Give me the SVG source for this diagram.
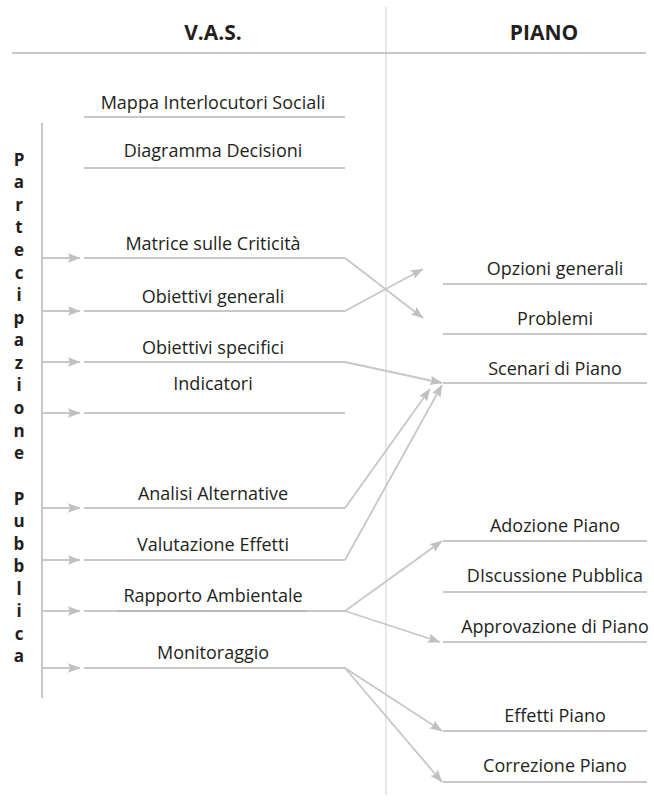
<svg xmlns="http://www.w3.org/2000/svg" width="654" height="803" viewBox="0 0 654 803">
<defs>
<marker id="ah" markerUnits="userSpaceOnUse" markerWidth="14" markerHeight="10" refX="12" refY="4.75" orient="auto">
<path d="M0,0 L12.5,4.75 L0,9.5 L2,4.75 Z" fill="#bfc0c2"/>
</marker>
<style>
.lbl{font-family:"Open Sans","Noto Sans",sans-serif;font-size:18px;fill:#231f20;text-anchor:middle}
.hdr{font-family:"Open Sans","Noto Sans",sans-serif;font-size:21px;font-weight:bold;fill:#231f20;text-anchor:middle}
.vt{font-family:"Open Sans","Noto Sans",sans-serif;font-size:17px;font-weight:bold;fill:#231f20;text-anchor:middle}
.ul{stroke:#c6c7c9;stroke-width:1.8;fill:none}
.ar{stroke:#c6c7c9;stroke-width:1.8;fill:none;marker-end:url(#ah)}
</style>
</defs>
<rect width="654" height="803" fill="#ffffff"/>
<g id="frame">
<line x1="386" y1="7" x2="386" y2="795" stroke="#e4e4e4" stroke-width="1.6"/>
<line x1="12" y1="53" x2="646" y2="53" stroke="#c6c7c9" stroke-width="2"/>
<line x1="42" y1="123" x2="42" y2="698" stroke="#c6c7c9" stroke-width="2"/>
<text class="hdr" x="213" y="40">V.A.S.</text>
<text class="hdr" x="544" y="40">PIANO</text>
</g>
<g id="partecipazione">
<text class="vt">
<tspan x="19" y="166">P</tspan><tspan x="19" y="188">a</tspan><tspan x="19" y="211">r</tspan><tspan x="19" y="233">t</tspan><tspan x="19" y="256">e</tspan><tspan x="19" y="279">c</tspan><tspan x="19" y="301">i</tspan><tspan x="19" y="324">p</tspan><tspan x="19" y="346">a</tspan><tspan x="19" y="369">z</tspan><tspan x="19" y="391">i</tspan><tspan x="19" y="414">o</tspan><tspan x="19" y="437">n</tspan><tspan x="19" y="459">e</tspan><tspan x="19" y="505">P</tspan><tspan x="19" y="527">u</tspan><tspan x="19" y="550">b</tspan><tspan x="19" y="572">b</tspan><tspan x="19" y="595">l</tspan><tspan x="19" y="617">i</tspan><tspan x="19" y="640">c</tspan><tspan x="19" y="662">a</tspan>
</text>
</g>
<g id="vas-mappa"><text class="lbl" x="213" y="109">Mappa Interlocutori Sociali</text><line class="ul" x1="84" y1="117" x2="345" y2="117"/></g>
<g id="vas-diagramma"><text class="lbl" x="213" y="157">Diagramma Decisioni</text><line class="ul" x1="84" y1="168" x2="345" y2="168"/></g>
<g id="vas-matrice"><text class="lbl" x="213" y="250">Matrice sulle Criticità</text><line class="ul" x1="84" y1="258" x2="345" y2="258"/></g>
<g id="vas-obgen"><text class="lbl" x="213" y="303">Obiettivi generali</text><line class="ul" x1="84" y1="311" x2="345" y2="311"/></g>
<g id="vas-obspec"><text class="lbl" x="213" y="354">Obiettivi specifici</text><line class="ul" x1="84" y1="362" x2="345" y2="362"/></g>
<g id="vas-indicatori"><text class="lbl" x="213" y="390">Indicatori</text><line class="ul" x1="84" y1="413" x2="345" y2="413"/></g>
<g id="vas-analisi"><text class="lbl" x="213" y="500">Analisi Alternative</text><line class="ul" x1="84" y1="508" x2="345" y2="508"/></g>
<g id="vas-valutazione"><text class="lbl" x="213" y="551">Valutazione Effetti</text><line class="ul" x1="84" y1="560" x2="345" y2="560"/></g>
<g id="vas-rapporto"><text class="lbl" x="213" y="602">Rapporto Ambientale</text><line class="ul" x1="84" y1="611" x2="345" y2="611"/><line x1="117" y1="611" x2="306" y2="611" stroke="#b8b9bb" stroke-width="2"/></g>
<g id="vas-monitoraggio"><text class="lbl" x="213" y="659">Monitoraggio</text><line class="ul" x1="84" y1="668" x2="345" y2="668"/></g>
<g id="piano-opzioni"><text class="lbl" x="555" y="275">Opzioni generali</text><line class="ul" x1="443" y1="284" x2="647" y2="284"/></g>
<g id="piano-problemi"><text class="lbl" x="555" y="325">Problemi</text><line class="ul" x1="443" y1="334" x2="647" y2="334"/></g>
<g id="piano-scenari"><text class="lbl" x="555" y="375">Scenari di Piano</text><line class="ul" x1="443" y1="383" x2="647" y2="383"/></g>
<g id="piano-adozione"><text class="lbl" x="555" y="532">Adozione Piano</text><line class="ul" x1="443" y1="541" x2="647" y2="541"/></g>
<g id="piano-discussione"><text class="lbl" x="555" y="582">DIscussione Pubblica</text><line class="ul" x1="443" y1="592" x2="647" y2="592"/></g>
<g id="piano-approvazione"><text class="lbl" x="555" y="633">Approvazione di Piano</text><line class="ul" x1="443" y1="642" x2="647" y2="642"/></g>
<g id="piano-effetti"><text class="lbl" x="555" y="722">Effetti Piano</text><line class="ul" x1="443" y1="731" x2="647" y2="731"/></g>
<g id="piano-correzione"><text class="lbl" x="555" y="772">Correzione Piano</text><line class="ul" x1="443" y1="782" x2="647" y2="782"/></g>
<g id="connectors">
<line class="ar" x1="42" y1="258" x2="80" y2="258"/>
<line class="ar" x1="42" y1="311" x2="80" y2="311"/>
<line class="ar" x1="42" y1="362" x2="80" y2="362"/>
<line class="ar" x1="42" y1="413" x2="80" y2="413"/>
<line class="ar" x1="42" y1="508" x2="80" y2="508"/>
<line class="ar" x1="42" y1="560" x2="80" y2="560"/>
<line class="ar" x1="42" y1="611" x2="80" y2="611"/>
<line class="ar" x1="42" y1="668" x2="80" y2="668"/>
<line class="ar" x1="345" y1="258" x2="423" y2="318"/>
<line class="ar" x1="345" y1="311" x2="423" y2="269"/>
<line class="ar" x1="345" y1="362" x2="442" y2="383"/>
<line class="ar" x1="345" y1="508" x2="430" y2="389"/>
<line class="ar" x1="345" y1="560" x2="442" y2="385"/>
<line class="ar" x1="345" y1="611" x2="442" y2="541"/>
<line class="ar" x1="345" y1="611" x2="440" y2="642"/>
<line class="ar" x1="345" y1="668" x2="442" y2="731"/>
<line class="ar" x1="345" y1="668" x2="442" y2="782"/>
</g>
</svg>
